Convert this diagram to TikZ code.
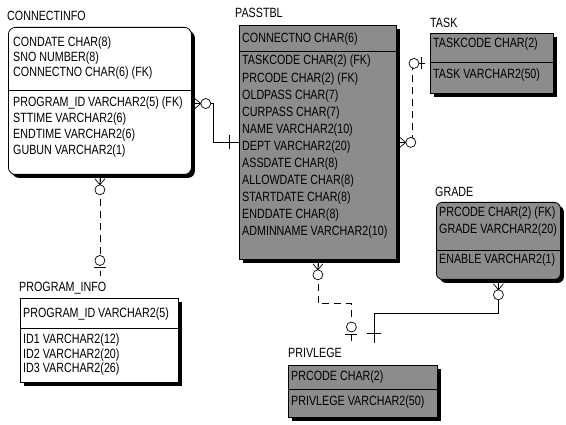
\documentclass[tikz,border=0pt]{standalone}
\usepackage{fontspec}
\setmainfont{Liberation Sans}[FakeStretch=0.8]
\usetikzlibrary{positioning,shadows}

\newcommand\erfont{\fontsize{13.4}{15}\selectfont}

\tikzset{
  ent/.style={draw, line width=0.8pt, fill=white, anchor=north west, inner sep=0pt,
    drop shadow={shadow xshift=3.5pt, shadow yshift=-3.5pt, fill=black, opacity=1}},
  entgray/.style={ent, fill=black!45},
  ttl/.style={font=\erfont, inner sep=0pt, anchor=base west},
  fld/.style={font=\erfont, inner sep=0pt, anchor=base west},
  sep/.style={line width=0.8pt},
  rel/.style={line width=0.7pt},
  nul/.style={rel, dash pattern=on 7pt off 5pt},
  zmany/.pic={\draw[rel] (0,-5) -- (6,0) -- (0,5) (0,0) -- (6,0);
              \draw[rel, fill=white] (11,0) circle (5);},
  zone/.pic={\draw[rel] (9,-6) -- (9,6);
             \draw[rel, fill=white] (16,0) circle (5);},
  onebar/.pic={\draw[rel] (10,-7) -- (10,7);}
}

\begin{document}
\begin{tikzpicture}[x=1pt, y=-1pt]
\useasboundingbox (0,0) rectangle (566,425);

% entities
\node[ent, rounded corners=7pt, minimum width=183pt, minimum height=147pt] (ci) at (8,27) {};
\node[ttl] (cit) at (7,21) {CONNECTINFO};
\draw[sep] (ci.west |- 0,90) -- (ci.east |- 0,90);
\foreach \f [count=\i] in {CONDATE CHAR(8), SNO NUMBER(8), CONNECTNO CHAR(6) (FK)}
  \node[fld] (cik\i) at (13,{47+15*(\i-1)}) {\f};
\foreach \f [count=\i] in {PROGRAM\_ID VARCHAR2(5) (FK), STTIME VARCHAR2(6), ENDTIME VARCHAR2(6), GUBUN VARCHAR2(1)}
  \node[fld] (cid\i) at (13,{107+16*(\i-1)}) {\f};

\node[entgray, minimum width=157pt, minimum height=234pt] (pt) at (239,25) {};
\node[ttl] (ptt) at (235,18) {PASSTBL};
\draw[sep] (pt.west |- 0,51) -- (pt.east |- 0,51);
\node[fld] (ptk) at (242,43) {CONNECTNO CHAR(6)};
\foreach \f [count=\i] in {TASKCODE CHAR(2) (FK), PRCODE CHAR(2) (FK), OLDPASS CHAR(7),
    CURPASS CHAR(7), NAME VARCHAR2(10), DEPT VARCHAR2(20), ASSDATE CHAR(8),
    ALLOWDATE CHAR(8), STARTDATE CHAR(8), ENDDATE CHAR(8), ADMINNAME VARCHAR2(10)}
  \node[fld] (ptd\i) at (242,{65+17.1*(\i-1)}) {\f};

\node[entgray, minimum width=123pt, minimum height=60pt] (tk) at (430,33) {};
\node[ttl] (tkt) at (430,28) {TASK};
\draw[sep] (tk.west |- 0,62) -- (tk.east |- 0,62);
\node[fld] (tkk) at (433,48) {TASKCODE CHAR(2)};
\node[fld] (tkd) at (433,79) {TASK VARCHAR2(50)};

\node[entgray, rounded corners=6pt, minimum width=124pt, minimum height=77pt] (gr) at (436,202) {};
\node[ttl] (grt) at (435,197) {GRADE};
\draw[sep] (gr.west |- 0,250) -- (gr.east |- 0,250);
\node[fld] (grk1) at (439,217) {PRCODE CHAR(2) (FK)};
\node[fld] (grk2) at (439,234) {GRADE VARCHAR2(20)};
\node[fld] (grd) at (439,264) {ENABLE VARCHAR2(1)};

\node[ent, minimum width=158pt, minimum height=84pt] (pi) at (20,298) {};
\node[ttl] (pit) at (19,292) {PROGRAM\_INFO};
\draw[sep] (pi.west |- 0,328) -- (pi.east |- 0,328);
\node[fld] (pik) at (23,318) {PROGRAM\_ID VARCHAR2(5)};
\foreach \f [count=\i] in {ID1 VARCHAR2(12), ID2 VARCHAR2(20), ID3 VARCHAR2(26)}
  \node[fld] (pid\i) at (23,{344+14.5*(\i-1)}) {\f};

\node[entgray, minimum width=149pt, minimum height=52pt] (pv) at (288,365) {};
\node[ttl] (pvt) at (288,358) {PRIVLEGE};
\draw[sep] (pv.west |- 0,389) -- (pv.east |- 0,389);
\node[fld] (pvk) at (291,381) {PRCODE CHAR(2)};
\node[fld] (pvd) at (291,406) {PRIVLEGE VARCHAR2(50)};

% connector ends
\coordinate (pin) at ([yshift=6pt]pit.north);
\coordinate (pvL) at ([xshift=-11.5pt, yshift=22pt]pv.north);
\coordinate (pvR) at ([xshift=11.5pt, yshift=22pt]pv.north);

% relationships
\draw[rel] (ci.east |- cid1) -- ++(22,0) |- (pt.west);
\draw[rel] (pt.east) -- ++(16,0) coordinate (ptr);
\draw[nul] (ptr) -- (ptr |- tk.west) -- (tk.west);
\draw[nul] (ci.south) -- (ci.south |- pin);
\draw[nul] (pt.south) -- ++(0,44) -| (pvL);
\draw[rel] (gr.south) -- ++(0,34) -| (pvR);

% cardinality marks
\pic[xshift=3pt] at (ci.east |- cid1) {zmany};
\pic[rotate=180] at (pt.west) {onebar};
\pic[xshift=3pt] at (pt.east) {zmany};
\pic[rotate=180] at (tk.west) {zone};
\pic[yshift=-4pt, rotate=-90] at (ci.south) {zmany};
\pic[rotate=90] at (ci.south |- pin) {zone};
\pic[yshift=-4pt, rotate=-90] at (pt.south) {zmany};
\pic[rotate=90] at (pvL) {zone};
\pic[yshift=-4pt, rotate=-90] at (gr.south) {zmany};
\pic[rotate=90] at (pvR) {onebar};
\end{tikzpicture}
\end{document}
